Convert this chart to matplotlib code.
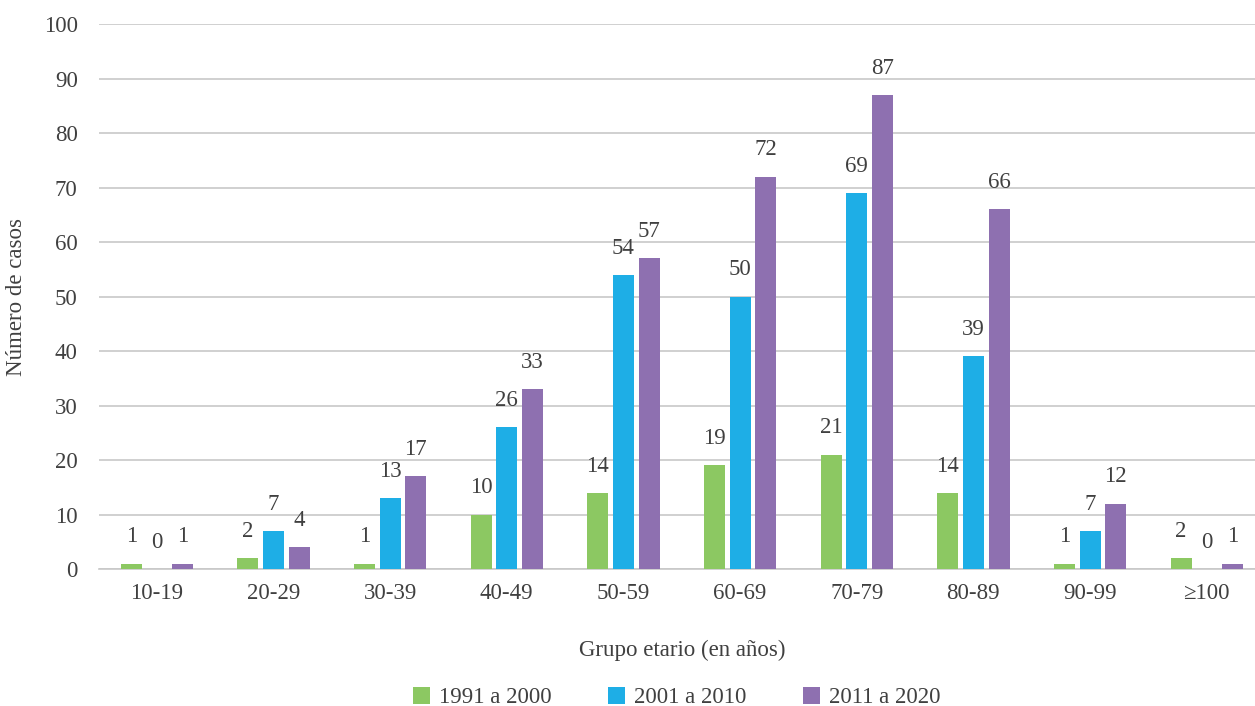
import numpy as np
import matplotlib.pyplot as plt

# Datos
grupos = ['10-19', '20-29', '30-39', '40-49', '50-59', '60-69', '70-79', '80-89', '90-99', '≥100']
series = ['1991 a 2000', '2001 a 2010', '2011 a 2020']
casos_1991 = [1, 2, 1, 10, 14, 19, 21, 14, 1, 2]
casos_2001 = [0, 7, 13, 26, 54, 50, 69, 39, 7, 0]
casos_2011 = [1, 4, 17, 33, 57, 72, 87, 66, 12, 1]
colores = ['#8CC862', '#1EAEE6', '#8E70B0']

plt.rcParams['font.family'] = ['Liberation Serif', 'DejaVu Serif']
texto = '#404040'
fs = 16.5

fig = plt.figure(figsize=(12.55, 7.06), dpi=100)
# el área del gráfico sobresale un poco por la derecha (como en el original)
ax = fig.add_axes([0.0785, 0.194, 0.9295, 0.772])

x = np.arange(len(grupos))
ancho = 0.18
paso = 0.22
for i, (nombre, vals, col) in enumerate(zip(series, [casos_1991, casos_2001, casos_2011], colores)):
    pos = x + (i - 1) * paso
    ax.bar(pos, vals, width=ancho, color=col, label=nombre, zorder=3)
    for p, v in zip(pos, vals):
        ax.text(p, v + 4.9, str(v), ha='center', va='center', fontsize=fs, color=texto)

ax.set_xlim(-0.5, len(grupos) - 0.5)
ax.set_ylim(0, 100)
ax.set_yticks(range(0, 101, 10))
ax.set_xticks(x)
ax.set_xticklabels(grupos)
ax.tick_params(axis='both', length=0, labelsize=fs, labelcolor=texto)
ax.tick_params(axis='x', pad=10)
ax.tick_params(axis='y', pad=15)
ax.grid(axis='y', color='#C8C8C8', linewidth=1.2, zorder=0)
for s in ['top', 'right', 'left']:
    ax.spines[s].set_visible(False)
ax.spines['bottom'].set_color('#C8C8C8')
ax.spines['bottom'].set_linewidth(1.2)

ax.set_xlabel('Grupo etario (en años)', fontsize=fs, color=texto, labelpad=26)
ax.set_ylabel('Número de casos', fontsize=fs, color=texto)
ax.yaxis.set_label_coords(-0.061, 0.5)

fig.legend(loc='center', bbox_to_anchor=(0.539, 0.012), ncol=3, frameon=False,
           fontsize=fs, labelcolor=texto, handlelength=0.75, handleheight=0.75,
           handletextpad=0.4, columnspacing=2.45)

fig.savefig('out.png', dpi=100)
